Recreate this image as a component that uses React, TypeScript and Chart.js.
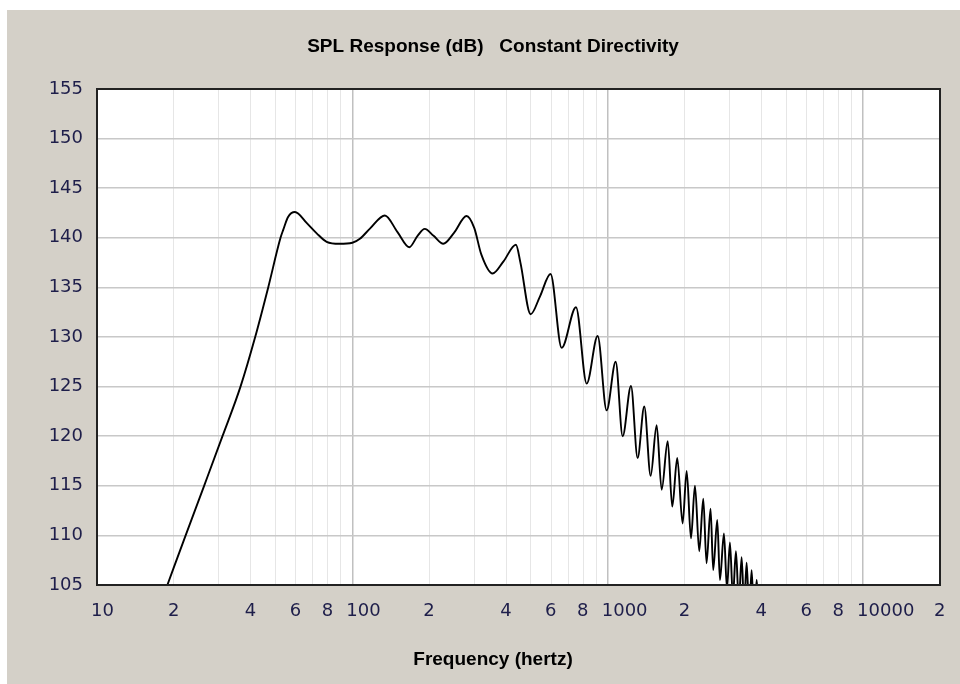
import React, { useEffect, useRef } from "react";
import { Chart, registerables } from "chart.js";

Chart.register(...registerables);

// ---- data ----
const FREQ_HZ = [
  18.86, 22.24, 26.27, 31.0, 36.47, 41.63, 46.82, 52.31, 53.6, 56.0, 59.6, 66.2, 72.5, 79.3, 89, 100, 107, 117.4, 134,
  150, 167, 180, 192, 208, 227, 250, 280, 300, 320, 354, 390, 437, 455, 499, 543, 597, 660, 751, 827, 913, 990,
  1074, 1144, 1233, 1309, 1390, 1472, 1554, 1626, 1717, 1789, 1871, 1964, 2037, 2118, 2195, 2282, 2366, 2437,
  2527, 2588, 2684, 2750, 2851, 2930, 3009, 3090, 3177, 3260, 3344, 3420, 3498, 3580, 3659, 3740, 3830, 3920,
];
const SPL_DB = [
  105.0, 110.0, 115.0, 120.0, 125.0, 130.0, 135.0, 140.0, 140.8, 142.1, 142.6, 141.5, 140.45, 139.6, 139.4, 139.5,
  139.9, 140.95, 142.25, 140.6, 139.05, 140.2, 140.9, 140.2, 139.4, 140.5, 142.2, 141.0, 138.3, 136.4, 137.6, 139.3,
  137.5, 132.3, 134.1, 136.35, 128.9, 133.0, 125.3, 130.1, 122.6, 127.5, 120.0, 125.06, 117.8, 123.0, 116.0, 121.1,
  114.6, 119.5, 112.9, 117.8, 111.2, 116.5, 109.7, 115.0, 108.4, 113.7, 107.2, 112.7, 106.5, 111.55, 105.5, 110.2,
  104.6, 109.3, 103.8, 108.4, 103.2, 107.8, 102.7, 107.25, 102.2, 106.5, 101.8, 105.5, 101.0,
];

const X_MIN = 10;
const X_MAX = 20000;
const X_GRID = [
  10, 20, 30, 40, 50, 60, 70, 80, 90,
  100, 200, 300, 400, 500, 600, 700, 800, 900,
  1000, 2000, 3000, 4000, 5000, 6000, 7000, 8000, 9000,
  10000, 20000,
];
const X_LABELED_DIGITS = [1, 2, 4, 6, 8];
const Y_MIN = 105;
const Y_MAX = 155;
const Y_STEP = 5;

const TITLE = "SPL Response (dB)   Constant Directivity";
const X_TITLE = "Frequency (hertz)";

function isDecade(v: number) {
  const l = Math.log10(v);
  return Math.abs(l - Math.round(l)) < 1e-9;
}

function xLabel(v: number): string {
  if (isDecade(v)) return String(v);
  const lead = Math.round(v / Math.pow(10, Math.floor(Math.log10(v) + 1e-9)));
  return X_LABELED_DIGITS.includes(lead) ? String(lead) : "";
}

const plotFrame = {
  id: "plotFrame",
  beforeDraw(chart: any) {
    const { ctx, chartArea } = chart;
    ctx.save();
    ctx.fillStyle = "#ffffff";
    ctx.fillRect(chartArea.left, chartArea.top, chartArea.right - chartArea.left, chartArea.bottom - chartArea.top);
    ctx.restore();
  },
  afterDatasetsDraw(chart: any) {
    const { ctx, chartArea } = chart;
    ctx.save();
    ctx.strokeStyle = "#222222";
    ctx.lineWidth = 2;
    ctx.strokeRect(chartArea.left, chartArea.top, chartArea.right - chartArea.left, chartArea.bottom - chartArea.top);
    ctx.restore();
  },
};

export default function App() {
  const ref = useRef<HTMLCanvasElement | null>(null);

  useEffect(() => {
    if (!ref.current) return;
    const points = FREQ_HZ.map((f, i) => ({ x: f, y: SPL_DB[i] }));
    const tickFont = { family: "'DejaVu Sans', sans-serif", size: 18 };
    const titleFont = { family: "'Liberation Sans', Arial, sans-serif", size: 19, weight: "bold" };
    const chart = new Chart(ref.current, {
      type: "line",
      data: {
        datasets: [
          {
            data: points,
            borderColor: "#000000",
            borderWidth: 1.9,
            pointRadius: 0,
            fill: false,
            cubicInterpolationMode: "monotone",
          },
        ],
      },
      options: {
        animation: false,
        responsive: false,
        devicePixelRatio: 1,
        layout: { padding: { left: 39, right: 20, top: 0, bottom: 0 } },
        plugins: {
          legend: { display: false },
          tooltip: { enabled: false },
          title: {
            display: true,
            text: TITLE,
            color: "#000000",
            font: titleFont,
            padding: { top: 25.5, bottom: 30.7 },
          },
          subtitle: {
            display: true,
            position: "bottom",
            text: X_TITLE,
            color: "#000000",
            font: titleFont,
            padding: { top: 26.6, bottom: 12.6 },
          },
        },
        scales: {
          x: {
            type: "logarithmic",
            min: X_MIN,
            max: X_MAX,
            afterBuildTicks: (scale: any) => {
              scale.ticks = X_GRID.map((v) => ({ value: v, major: isDecade(v) }));
            },
            afterFit: (scale: any) => {
              scale.height = 37;
              scale.paddingLeft = 0;
              scale.paddingRight = 0;
            },
            border: { display: false },
            grid: {
              drawTicks: false,
              color: (c: any) => (c.tick && isDecade(c.tick.value) ? "#c0c0c0" : "#e6e6e6"),
              lineWidth: (c: any) => (c.tick && isDecade(c.tick.value) ? 1.5 : 1),
            },
            ticks: {
              autoSkip: false,
              maxRotation: 0,
              minRotation: 0,
              align: "start",
              labelOffset: -6,
              padding: 16,
              color: "#1e1e4a",
              font: tickFont,
              callback: (v: any) => xLabel(Number(v)),
            },
          },
          y: {
            min: Y_MIN,
            max: Y_MAX,
            afterFit: (scale: any) => {
              scale.width = 51;
            },
            border: { display: false },
            grid: {
              drawTicks: false,
              color: "#c8c8c8",
              lineWidth: 1.5,
            },
            ticks: {
              stepSize: Y_STEP,
              padding: 14,
              color: "#1e1e4a",
              font: tickFont,
            },
          },
        },
      },
      plugins: [plotFrame],
    } as any);
    return () => chart.destroy();
  }, []);

  return (
    <div style={{ position: "fixed", left: 0, top: 0, width: 960, height: 684, background: "#ffffff" }}>
      <canvas
        ref={ref}
        width={953}
        height={674}
        style={{ position: "absolute", left: 7, top: 10, width: 953, height: 674, background: "#d4d0c8" }}
      />
    </div>
  );
}
